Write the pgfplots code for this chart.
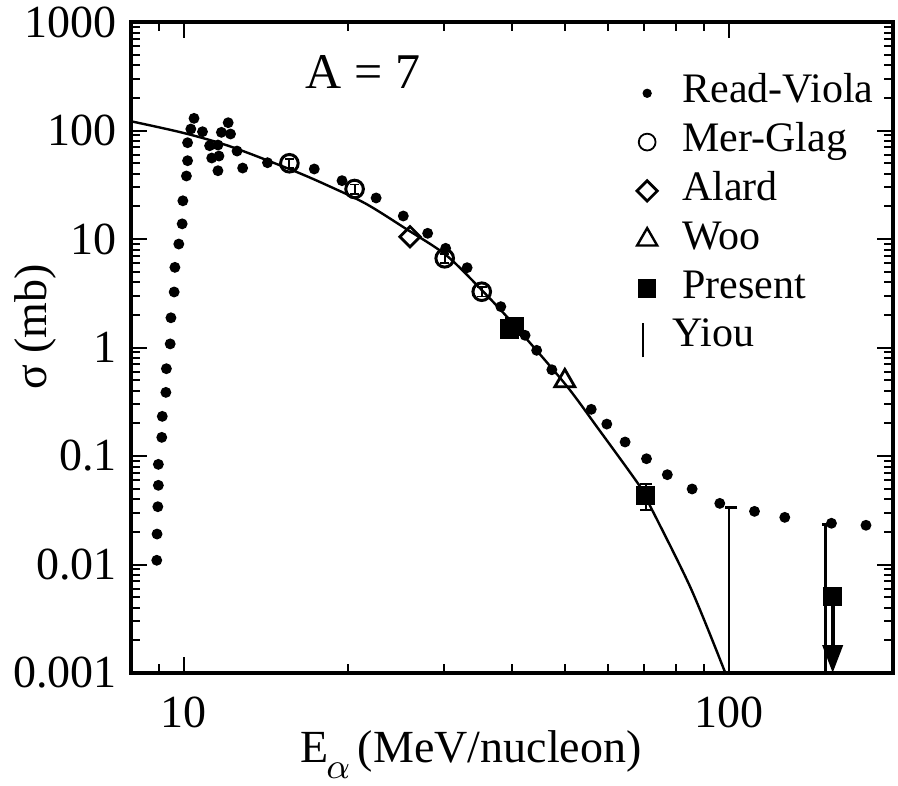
\documentclass[border=0pt]{standalone}
\usepackage{fontspec}
\setmainfont{Liberation Serif}
\usepackage{pgfplots}
\pgfplotsset{compat=1.18}
\usetikzlibrary{arrows.meta}

\begin{document}
\begin{tikzpicture}
\begin{axis}[
    name=ax,
    xmode=log, ymode=log,
    scale only axis,
    width=190.5pt, height=162.75pt,
    xmin=8, xmax=200, ymin=0.001, ymax=1000,
    clip=false,
    axis line style={line width=0.8pt},
    tick style={line width=0.5pt, black},
    major tick length=4pt, minor tick length=2.2pt,
    tick align=inside,
    xtick={10,100}, xticklabels={10,100},
    minor xtick={8,9,20,30,40,50,60,70,80,90,200},
    ytick={0.001,0.01,0.1,1,10,100,1000},
    yticklabels={0.001,0.01,0.1,1,10,100,1000},
    minor ytick={0.002,0.003,0.004,0.005,0.006,0.007,0.008,0.009,
                 0.02,0.03,0.04,0.05,0.06,0.07,0.08,0.09,
                 0.2,0.3,0.4,0.5,0.6,0.7,0.8,0.9,
                 2,3,4,5,6,7,8,9,20,30,40,50,60,70,80,90,
                 200,300,400,500,600,700,800,900},
    ticklabel style={font=\fontsize{11.5}{13}\selectfont},
    xticklabel style={yshift=-2.5pt},
    legend style={at={(0.664,0.928)}, anchor=north west, draw=none, fill=none,
        inner sep=0pt, outer sep=0pt, font=\fontsize{10.5}{12}\selectfont,
        nodes={inner sep=0pt, text height=8.5pt, text depth=3.7pt},
        /tikz/every odd column/.append style={column sep=6.25pt}},
    legend cell align=left,
    legend image code/.code={\draw[#1] plot coordinates {(0pt,0pt)};},
]

% fit
\addplot[forget plot, smooth, line width=0.6pt, mark=none] coordinates {
    (8.04,121.0) (10,94.8) (12.18,71.2) (15.86,42.8) (18.53,30.5) (21.63,21.0)
    (25.59,12.37) (30.26,7.12) (35.19,3.39) (40.24,1.647) (50.06,0.461)
    (57.47,0.1811) (68.0,0.0564) (70.31,0.0419) (84.92,0.0062) (98.5,0.001)
};

% Read-Viola
\addplot[forget plot, only marks, mark=*, mark size=1.15pt] coordinates {
    (8.92,0.01094) (8.93,0.0191) (8.96,0.0341) (8.98,0.0537) (8.98,0.0838)
    (9.11,0.1486) (9.13,0.232) (9.27,0.386) (9.29,0.638) (9.44,1.08)
    (9.47,1.88) (9.60,3.25) (9.63,5.48) (9.79,8.99) (9.93,13.8) (9.96,22.5)
    (10.11,38.1) (10.16,52.7) (10.16,77.2) (10.30,103.2) (10.44,129.5)
    (10.82,97.5) (11.15,72.4) (11.25,55.8) (11.55,73.5) (11.60,58.2)
    (11.55,42.6) (11.72,96.2) (12.06,118) (12.18,92.9) (12.52,64.7)
    (12.82,45.1) (14.24,50.5) (17.35,44.2) (19.51,34.5) (22.53,23.9)
    (25.27,16.3) (28.01,11.29) (30.22,8.21) (33.09,5.44) (38.16,2.38)
    (42.27,1.296) (44.39,0.942) (47.33,0.624) (55.9,0.2694) (59.7,0.197)
    (64.5,0.1346) (70.6,0.0944) (77.1,0.0673) (85.6,0.0497) (96.2,0.0366)
    (111.4,0.0309) (126.6,0.0272) (154.2,0.0240) (178.4,0.0230)
};

% Mer-Glag
\addplot[forget plot, only marks, mark=o, mark size=2.2pt, line width=0.75pt,
    error bars/.cd, y dir=both, y fixed relative=0.1,
    error bar style={line width=0.5pt}, error mark options={rotate=90, mark size=1.2pt}]
    coordinates {(15.62,49.9) (20.57,28.9) (30.1,6.64) (35.2,3.27)};

% Alard
\addplot[forget plot, only marks, mark=square, mark size=1.8pt, line width=0.7pt,
    mark options={rotate=45}] coordinates {(26.0,10.5)};

% Woo
\addplot[forget plot, only marks, mark=triangle, mark size=2.9pt, line width=0.7pt]
    coordinates {(50.0,0.491)};

% Present
\addplot[forget plot, only marks, mark=square*, mark size=2.2pt,
    error bars/.cd, y dir=both, y explicit,
    error bar style={line width=0.5pt}, error mark options={rotate=90, mark size=1.5pt}]
    coordinates {(39.6,1.48) +- (0,0) (40.4,1.56) +- (0,0) (70.4,0.043) += (0,0.0122) -= (0,0.0112) (155,0.00505)};
\addplot[forget plot, line width=1pt, -{Triangle[length=7pt,width=5pt]}]
    coordinates {(155,0.0042) (155,0.001)};

% Yiou
\addplot[forget plot, only marks, mark=-, mark size=1.5pt,
    mark options={xshift=0.6pt, line width=0.7pt},
    error bars/.cd, y dir=minus, y explicit,
    error bar style={line width=0.7pt}, error mark=none]
    coordinates {(100,0.0334) -= (0,0.0324) (150.4,0.0235) -= (0,0.0225)};

\addlegendimage{only marks, mark=*, mark size=0.95pt}
\addlegendentry{Read-Viola}
\addlegendimage{only marks, mark=o, mark size=2.1pt, line width=0.45pt}
\addlegendentry{Mer-Glag}
\addlegendimage{only marks, mark=square, mark size=1.8pt, line width=0.7pt, mark options={rotate=45}}
\addlegendentry{Alard}
\addlegendimage{only marks, mark=triangle, mark size=2.9pt, line width=0.6pt}
\addlegendentry{Woo}
\addlegendimage{only marks, mark=square*, mark size=2.1pt}
\addlegendentry{Present}
\addlegendimage{legend image code/.code={\draw[line width=0.5pt] (-1pt,-5pt) -- (-1pt,3.6pt);}}
\addlegendentry{\hspace*{-2.5pt}Yiou}

\node[anchor=base, font=\fontsize{12.5}{15}\selectfont] at (rel axis cs:0.3045,0.8986) {A = 7};
\node[anchor=base, font=\fontsize{11.5}{13}\selectfont] at (rel axis cs:0.446,-0.1382)
    {E\kern-0.5pt\lower0.75ex\hbox{\fontsize{9.5}{11}\selectfont$\alpha$}\kern2pt (MeV/nucleon)};
\node[rotate=90, anchor=center, font=\fontsize{11.5}{13}\selectfont] at (rel axis cs:-0.126,0.5315) {σ (mb)};
\end{axis}
\pgfresetboundingbox
\path[use as bounding box] ([shift={(-32.75pt,-28pt)}]ax.south west) rectangle ([shift={(1.25pt,5.5pt)}]ax.north east);
\end{tikzpicture}
\end{document}
